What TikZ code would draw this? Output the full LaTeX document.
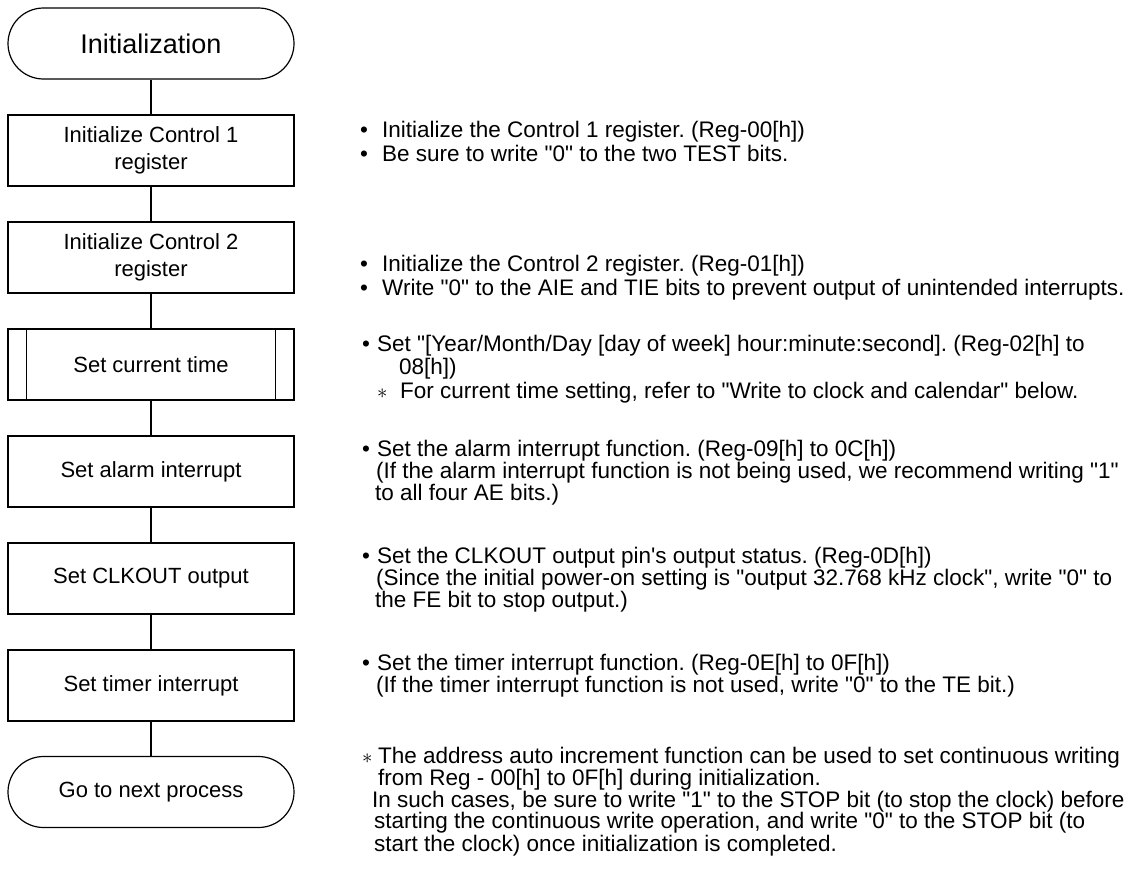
\documentclass[tikz,border=0pt]{standalone}
\usepackage{fontspec}
\setmainfont{Liberation Sans}[Ligatures=TeXOff]
\frenchspacing
\begin{document}
\begin{tikzpicture}[x=1pt,y=-1pt,
  box/.style={draw, line width=1.2pt, minimum width=286pt, minimum height=71pt, inner sep=0pt, align=center, font=\fontsize{22}{27}\selectfont},
  term/.style={box, rounded corners=35.5pt},
  note/.style={anchor=base west, inner sep=0pt, font=\fontsize{22.5}{22}\selectfont},
  link/.style={line width=1.2pt}]
\useasboundingbox (0,0) rectangle (1132,878);
% flowchart
\node[term, font=\fontsize{27}{32}\selectfont] (n0) at (151,43.5) {Initialization};
\node[box] (n1) at (151,150.5) {Initialize Control 1\\register};
\node[box] (n2) at (151,257.5) {Initialize Control 2\\register};
\node[box] (n3) at (151,364.5) {Set current time};
\draw[link] ([xshift=19pt]n3.north west) -- ([xshift=19pt]n3.south west);
\draw[link] ([xshift=-19pt]n3.north east) -- ([xshift=-19pt]n3.south east);
\node[box] (n4) at (151,471.5) {Set alarm interrupt};
\node[box] (n5) at (151,578.5) {Set CLKOUT output};
\node[box] (n6) at (151,685.5) {Set timer interrupt};
\node[term] (n7) at (151,792) {Go to next process};
\draw[link] (n0.south) -- (n1.north);
\draw[link] (n1.south) -- (n2.north);
\draw[link] (n2.south) -- (n3.north);
\draw[link] (n3.south) -- (n4.north);
\draw[link] (n4.south) -- (n5.north);
\draw[link] (n5.south) -- (n6.north);
\draw[link] (n6.south) -- (n7.north);
% notes
\node[note] (a1) at (360,137) {\makebox[22pt][l]{•}Initialize the Control 1 register. (Reg-00[h])};
\node[note] (a2) at (360,161) {\makebox[22pt][l]{•}Be sure to write "0" to the two TEST bits.};
\node[note] (b1) at (360,271) {\makebox[22pt][l]{•}Initialize the Control 2 register. (Reg-01[h])};
\node[note] (b2) at (360,295) {\makebox[22pt][l]{•}Write "0" to the AIE and TIE bits to prevent output of unintended interrupts.};
\node[note] (c1) at (362,351) {\makebox[15pt][l]{•}Set "[Year/Month/Day [day of week] hour:minute:second]. (Reg-02[h] to};
\node[note] (c2) at (399,374) {08[h])};
\node[note] (c3) at (377,398) {\makebox[23pt][l]{$\ast$}For current time setting, refer to "Write to clock and calendar" below.};
\node[note] (d1) at (362,456) {\makebox[15pt][l]{•}Set the alarm interrupt function. (Reg-09[h] to 0C[h])};
\node[note] (d2) at (376,478) {(If the alarm interrupt function is not being used, we recommend writing "1"};
\node[note] (d3) at (375,500) {to all four AE bits.)};
\node[note] (e1) at (362,563) {\makebox[15pt][l]{•}Set the CLKOUT output pin's output status. (Reg-0D[h])};
\node[note] (e2) at (376,585) {(Since the initial power-on setting is "output 32.768 kHz clock", write "0" to};
\node[note] (e3) at (375,607) {the FE bit to stop output.)};
\node[note] (f1) at (362,670) {\makebox[15pt][l]{•}Set the timer interrupt function. (Reg-0E[h] to 0F[h])};
\node[note] (f2) at (376,692) {(If the timer interrupt function is not used, write "0" to the TE bit.)};
\node[note] (g1) at (362,763) {\makebox[16pt][l]{$\ast$}The address auto increment function can be used to set continuous writing};
\node[note] (g2) at (378,785) {from Reg - 00[h] to 0F[h] during initialization.};
\node[note] (g3) at (372,807) {In such cases, be sure to write "1" to the STOP bit (to stop the clock) before};
\node[note] (g4) at (374,828) {starting the continuous write operation, and write "0" to the STOP bit (to};
\node[note] (g5) at (374,851) {start the clock) once initialization is completed.};
\end{tikzpicture}
\end{document}
